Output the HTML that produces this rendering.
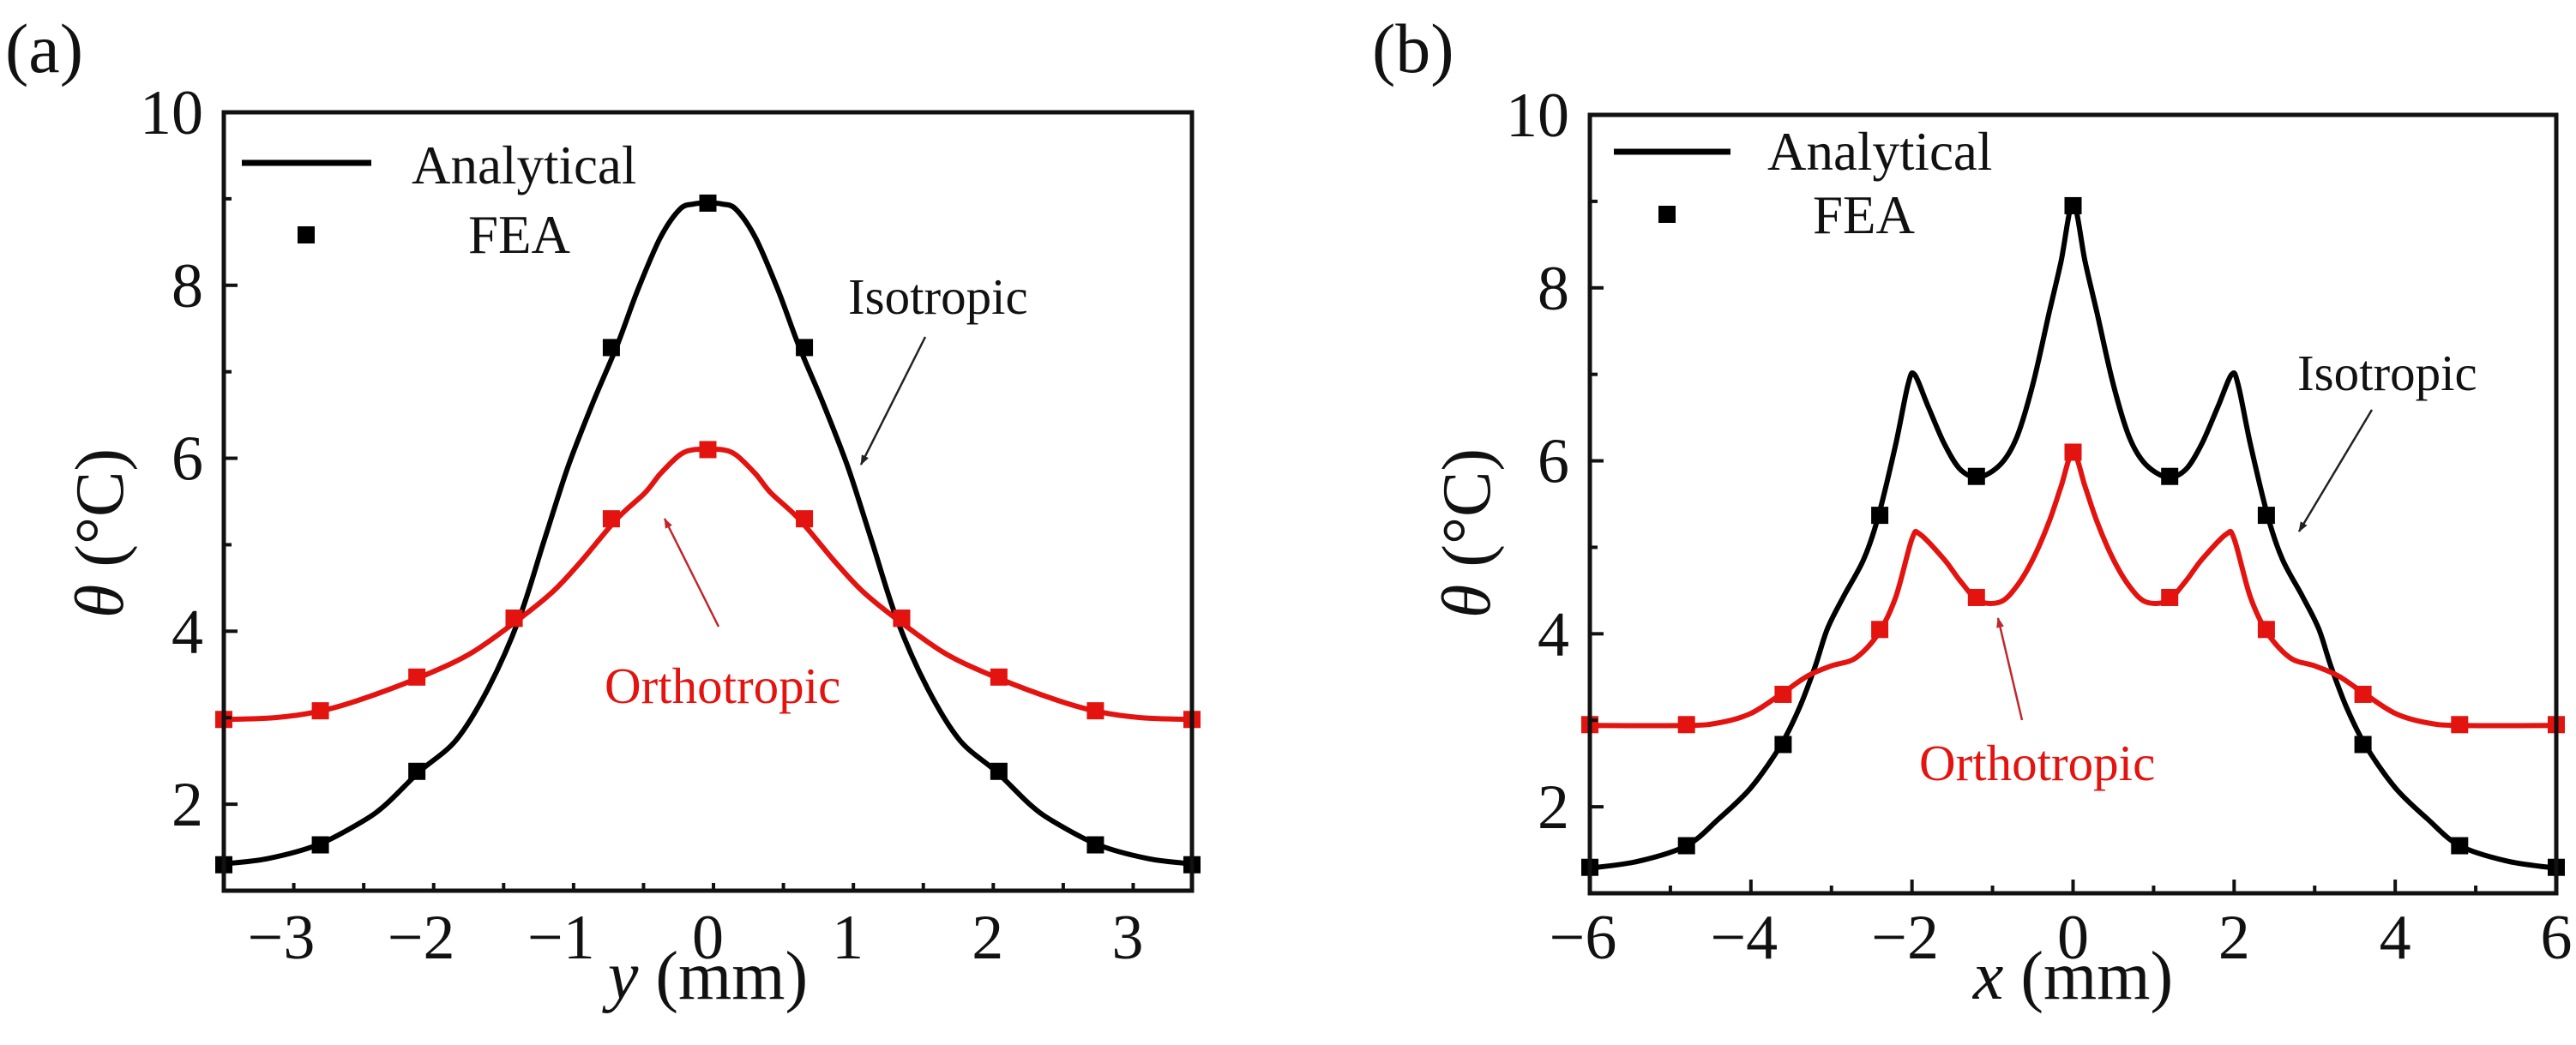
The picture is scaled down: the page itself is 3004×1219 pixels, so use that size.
<!DOCTYPE html>
<html><head><meta charset="utf-8"><style>
html,body{margin:0;padding:0;background:#fff;}
svg{display:block;font-family:"Liberation Serif",serif;}
</style></head><body>
<svg id="fig" width="3004" height="1219" viewBox="0 0 3004 1219" xmlns="http://www.w3.org/2000/svg"></svg>
<script>
// ---- Panel (a) data (right half, symmetric about 0) ----
const aX = [0, 0.1, 0.2, 0.34, 0.5, 0.65, 0.82, 1.0, 1.17, 1.35, 1.57, 1.8, 2.06, 2.3, 2.47, 2.79, 3.15, 3.46];
const aIso = [8.95, 8.94, 8.88, 8.55, 7.95, 7.3, 6.65, 5.9, 5.05, 4.14, 3.34, 2.74, 2.38, 2.0, 1.8, 1.53, 1.37, 1.31];
const aOrthoX = [0, 0.1, 0.2, 0.34, 0.45, 0.65, 0.9, 1.1, 1.35, 1.7, 2.07, 2.5, 2.79, 3.1, 3.46];
const aOrtho = [6.1, 6.1, 6.04, 5.82, 5.6, 5.3, 4.82, 4.47, 4.14, 3.74, 3.46, 3.2, 3.07, 3.0, 2.98];
const aFeaX = [0, 0.69, 1.385, 2.08, 2.77, 3.46];
const aFeaIso = [8.95, 7.28, 4.15, 2.38, 1.53, 1.3];
const aFeaOrtho = [6.1, 5.3, 4.15, 3.47, 3.08, 2.98];
const aXTicks = [-3, -2, -1, 0, 1, 2, 3];
const aXTickLabels = ["\u22123", "\u22122", "\u22121", "0", "1", "2", "3"];
// ---- Panel (b) data (right half, symmetric about 0) ----
const bX = [0, 0.15, 0.3, 0.5, 0.7, 0.9, 1.17, 1.4, 1.6, 1.8, 1.97, 2.05, 2.2, 2.42, 2.6, 2.85, 3.05, 3.2, 3.4, 3.63, 4.0, 4.4, 4.8, 5.4, 6.0];
const bIso = [8.98, 8.3, 7.7, 6.88, 6.27, 5.96, 5.81, 5.9, 6.2, 6.63, 7.0, 6.88, 6.2, 5.35, 4.86, 4.43, 4.06, 3.63, 3.14, 2.71, 2.22, 1.86, 1.55, 1.37, 1.29];
const bOrthoX = [0, 0.15, 0.3, 0.5, 0.7, 0.9, 1.17, 1.4, 1.6, 1.9, 2.0, 2.2, 2.42, 2.7, 3.0, 3.3, 3.63, 4.0, 4.4, 4.8, 6.0];
const bOrtho = [6.1, 5.7, 5.29, 4.86, 4.55, 4.37, 4.38, 4.61, 4.86, 5.15, 5.1, 4.43, 4.0, 3.72, 3.63, 3.51, 3.3, 3.08, 2.97, 2.94, 2.94];
const bFeaX = [0, 1.2, 2.4, 3.6, 4.8, 6.0];
const bFeaIso = [8.95, 5.82, 5.37, 2.72, 1.55, 1.3];
const bFeaOrtho = [6.1, 4.42, 4.05, 3.3, 2.95, 2.95];
const bXTicks = [-6, -4, -2, 0, 2, 4, 6];
const bXTickLabels = ["\u22126", "\u22124", "\u22122", "0", "2", "4", "6"];
const yTicks = [2, 4, 6, 8, 10];
const yTickLabels = ["2", "4", "6", "8", "10"];

const NS = "http://www.w3.org/2000/svg";
const svg = document.getElementById("fig");
function mk(tag, attrs, parent) {
  const e = document.createElementNS(NS, tag);
  for (const k in attrs) e.setAttribute(k, attrs[k]);
  (parent || svg).appendChild(e);
  return e;
}
function mirror(xs, ys) {
  const px = [], py = [];
  for (let i = xs.length - 1; i > 0; i--) { px.push(-xs[i]); py.push(ys[i]); }
  for (let i = 0; i < xs.length; i++) { px.push(xs[i]); py.push(ys[i]); }
  return [px, py];
}
function smoothPath(pts) {
  let d = "M" + pts[0][0].toFixed(1) + "," + pts[0][1].toFixed(1);
  for (let i = 0; i < pts.length - 1; i++) {
    const p0 = pts[Math.max(0, i - 1)], p1 = pts[i], p2 = pts[i + 1], p3 = pts[Math.min(pts.length - 1, i + 2)];
    const t = 0.16;
    const c1 = [p1[0] + (p2[0] - p0[0]) * t, p1[1] + (p2[1] - p0[1]) * t];
    const c2 = [p2[0] - (p3[0] - p1[0]) * t, p2[1] - (p3[1] - p1[1]) * t];
    d += "C" + c1[0].toFixed(1) + "," + c1[1].toFixed(1) + " " + c2[0].toFixed(1) + "," + c2[1].toFixed(1) + " " + p2[0].toFixed(1) + "," + p2[1].toFixed(1);
  }
  return d;
}

function panel(cfg) {
  const g = mk("g", {});
  
  
  const sx = v => cfg.L + (v - cfg.xmin) / (cfg.xmax - cfg.xmin) * (cfg.R - cfg.L);
  const sy = v => cfg.B - (v - 1) / 9 * (cfg.B - cfg.T);
  const pl = mk("text", {x: cfg.labX, y: 84, "font-size": 82, fill: "#111"}, g);
  pl.textContent = cfg.label;
  
  
  const iso = mirror(cfg.x, cfg.iso);
  const isoPath = mk("path", {d: smoothPath(iso[0].map((v, i) => [sx(v), sy(iso[1][i])])), fill: "none", stroke: "#000", "stroke-width": 6, "stroke-linejoin": "round"}, g);
  
  
  const or = mirror(cfg.ox, cfg.ortho);
  const orPath = mk("path", {d: smoothPath(or[0].map((v, i) => [sx(v), sy(or[1][i])])), fill: "none", stroke: "#e3130f", "stroke-width": 6, "stroke-linejoin": "round"}, g);
  
  
  const fi = mirror(cfg.fx, cfg.fiso), fo = mirror(cfg.fx, cfg.fortho);
  fi[0].forEach((v, i) => {
    const r = mk("rect", {x: sx(v) - 10, y: sy(fi[1][i]) - 10, width: 20, height: 20, fill: "#000"}, g);
    
    
  });
  fo[0].forEach((v, i) => {
    const r = mk("rect", {x: sx(v) - 10, y: sy(fo[1][i]) - 10, width: 20, height: 20, fill: "#e3130f"}, g);
    
    
  });
  const box = mk("rect", {x: cfg.L, y: cfg.T, width: cfg.R - cfg.L, height: cfg.B - cfg.T, fill: "none", stroke: "#111", "stroke-width": 5}, g);
  
  
  for (let v = 1; v <= 10; v++) {
    const major = v % 2 === 0;
    const t = mk("line", {x1: cfg.L, x2: cfg.L + (major ? 16 : 9), y1: sy(v), y2: sy(v), stroke: "#111", "stroke-width": 4}, g);
    
    
  }
  yTicks.forEach((v, i) => {
    const t = mk("text", {x: cfg.L - 24, y: sy(v) + 25, "font-size": 74, "text-anchor": "end", fill: "#111"}, g);
    t.textContent = yTickLabels[i];
    
    
  });
  for (let v = cfg.xmin; v <= cfg.xmax + 1e-9; v += cfg.minor) {
    const major = Math.abs(v / cfg.major - Math.round(v / cfg.major)) < 1e-6;
    if (sx(v) < cfg.L - 1 || sx(v) > cfg.R + 1) continue;
    const t = mk("line", {x1: sx(v), x2: sx(v), y1: cfg.B, y2: cfg.B - (major ? 16 : 9), stroke: "#111", "stroke-width": 4}, g);
    
    
  }
  cfg.xt.forEach((v, i) => {
    const t = mk("text", {x: sx(v) - (v < 0 ? 8 : 0), y: 1118, "font-size": 74, "text-anchor": "middle", fill: "#111"}, g);
    t.textContent = cfg.xtl[i];
    
    
  });
  const xt = mk("text", {x: (cfg.L + cfg.R) / 2, y: 1165, "font-size": 80, "text-anchor": "middle", fill: "#111"}, g);
  xt.innerHTML = '<tspan font-style="italic">' + cfg.xvar + '</tspan> (mm)';
  
  
  const yt = mk("text", {x: 0, y: 0, "font-size": 80, "text-anchor": "middle", fill: "#111", transform: "translate(" + (cfg.ytx + 26) + ",622) rotate(-90)"}, g);
  yt.innerHTML = '<tspan font-style="italic">\u03b8</tspan> (\u00b0C)';
  
  
  const ll = mk("line", {x1: cfg.lg.lx1, x2: cfg.lg.lx2, y1: cfg.lg.ly, y2: cfg.lg.ly, stroke: "#000", "stroke-width": 7}, g);
  
  
  const la = mk("text", {x: cfg.lg.tx, y: cfg.lg.ty1, "font-size": 63, fill: "#111"}, g);
  la.textContent = "Analytical";
  
  
  const lm = mk("rect", {x: cfg.lg.mx - 10, y: cfg.lg.my - 10, width: 20, height: 20, fill: "#000"}, g);
  
  
  const lf = mk("text", {x: cfg.lg.fx, y: cfg.lg.ty2, "font-size": 63, fill: "#111"}, g);
  lf.textContent = "FEA";
  
  
  const it = mk("text", {x: cfg.an.ix, y: cfg.an.iy, "font-size": 59, fill: "#111"}, g);
  it.textContent = "Isotropic";
  
  
  const ot = mk("text", {x: cfg.an.ox, y: cfg.an.oy, "font-size": 59, fill: "#e3130f"}, g);
  ot.textContent = "Orthotropic";
  
  
  const ia = mk("line", {x1: cfg.an.ia[0], y1: cfg.an.ia[1], x2: cfg.an.ia[2], y2: cfg.an.ia[3], stroke: "#222", "stroke-width": 2.5, "marker-end": "url(#ahK)"}, g);
  
  
  const oa = mk("line", {x1: cfg.an.oa[0], y1: cfg.an.oa[1], x2: cfg.an.oa[2], y2: cfg.an.oa[3], stroke: "#c0262a", "stroke-width": 2.5, "marker-end": "url(#ahR)"}, g);
  
  
}

const defs = mk("defs", {});
defs.innerHTML = '<marker id="ahK" markerWidth="12" markerHeight="9" refX="11" refY="4.5" orient="auto" markerUnits="userSpaceOnUse"><path d="M0,0 L12,4.5 L0,9 z" fill="#222"/></marker>' +
  '<marker id="ahR" markerWidth="12" markerHeight="9" refX="11" refY="4.5" orient="auto" markerUnits="userSpaceOnUse"><path d="M0,0 L12,4.5 L0,9 z" fill="#c0262a"/></marker>';

panel({name: "panel-a", label: "(a)", labX: 6, L: 261, R: 1390, T: 131, B: 1039, xmin: -3.46, xmax: 3.46, major: 1, minor: 0.5,
  x: aX, iso: aIso, ox: aOrthoX, ortho: aOrtho, fx: aFeaX, fiso: aFeaIso, fortho: aFeaOrtho,
  xt: aXTicks, xtl: aXTickLabels, xvar: "y", ytx: 117,
  lg: {lx1: 282, lx2: 433, ly: 190, tx: 480, ty1: 214, mx: 357, my: 274, fx: 546, ty2: 295},
  an: {ix: 989, iy: 366, ox: 705, oy: 820, ia: [1079, 393, 1004, 542], oa: [838, 731, 775, 605]}});
panel({name: "panel-b", label: "(b)", labX: 1600, L: 1854, R: 2981, T: 134, B: 1042, xmin: -6, xmax: 6, major: 2, minor: 1,
  x: bX, iso: bIso, ox: bOrthoX, ortho: bOrtho, fx: bFeaX, fiso: bFeaIso, fortho: bFeaOrtho,
  xt: bXTicks, xtl: bXTickLabels, xvar: "x", ytx: 1711,
  lg: {lx1: 1882, lx2: 2018, ly: 177, tx: 2061, ty1: 198, mx: 1944, my: 250, fx: 2114, ty2: 272},
  an: {ix: 2679, iy: 455, ox: 2238, oy: 910, ia: [2766, 478, 2681, 620], oa: [2358, 840, 2330, 721]}});
</script>
</body></html>
